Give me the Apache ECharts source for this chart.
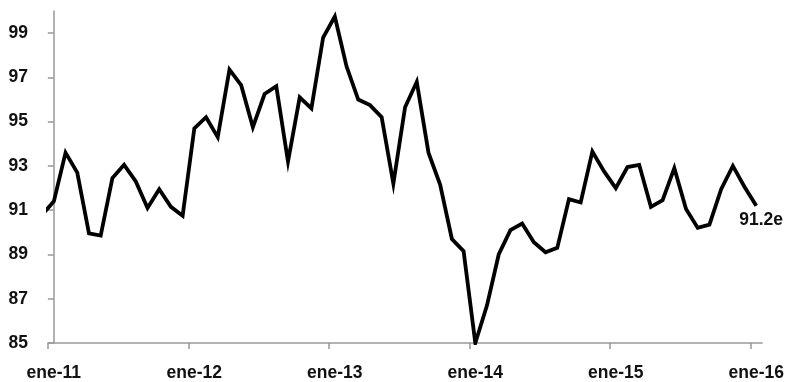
<!DOCTYPE html>
<html>
<head>
<meta charset="utf-8">
<script src="https://cdn.jsdelivr.net/npm/echarts@6/dist/echarts.min.js"></script>
<style>html,body{margin:0;padding:0;background:#fff;}#c{width:787px;height:382px;}</style>
</head>
<body>
<div id="c"></div>
<script>
// Month categories (ene-11 .. ene-16)
const categories = [
  'ene-11','feb-11','mar-11','abr-11','may-11','jun-11','jul-11','ago-11','sep-11','oct-11','nov-11','dic-11',
  'ene-12','feb-12','mar-12','abr-12','may-12','jun-12','jul-12','ago-12','sep-12','oct-12','nov-12','dic-12',
  'ene-13','feb-13','mar-13','abr-13','may-13','jun-13','jul-13','ago-13','sep-13','oct-13','nov-13','dic-13',
  'ene-14','feb-14','mar-14','abr-14','may-14','jun-14','jul-14','ago-14','sep-14','oct-14','nov-14','dic-14',
  'ene-15','feb-15','mar-15','abr-15','may-15','jun-15','jul-15','ago-15','sep-15','oct-15','nov-15','dic-15',
  'ene-16'
];
// Value for dic-10 (only partially visible at left edge)
const priorValue = 90.8;
const values = [
  91.4, 93.6, 92.7, 89.95, 89.85, 92.45, 93.05, 92.3, 91.1, 91.95, 91.15, 90.75,
  94.7, 95.2, 94.3, 97.35, 96.65, 94.75, 96.25, 96.6, 93.2, 96.1, 95.6, 98.8,
  99.75, 97.5, 96.0, 95.75, 95.2, 92.2, 95.65, 96.8, 93.6, 92.15, 89.7, 89.15,
  85.0, 86.7, 89.0, 90.1, 90.4, 89.55, 89.1, 89.3, 91.5, 91.35, 93.65, 92.75,
  92.0, 92.95, 93.05, 91.15, 91.45, 92.9, 91.05, 90.2, 90.35, 91.95, 93.0, 92.05,
  91.2
];
const yTickValues = [85, 87, 89, 91, 93, 95, 97, 99];
const xLabelIndexes = [0, 12, 24, 36, 48, 60];
const xTickPositions = xLabelIndexes.map(i => i - 0.5);

const seriesData = [[-1, priorValue]].concat(values.map((v, i) => [i, v]));
const font = '"Liberation Sans", Arial, sans-serif';

const chart = echarts.init(document.getElementById('c'), null, {renderer: 'canvas'});
chart.setOption({
  animation: false,
  backgroundColor: '#ffffff',
  grid: {left: 48, right: 23, top: 11, bottom: 38, containLabel: false},
  xAxis: {
    type: 'value',
    min: -0.5,
    max: categories.length - 0.5,
    splitLine: {show: false},
    axisLine: {show: true, lineStyle: {color: '#999', width: 1.5}},
    axisTick: {show: true, customValues: xTickPositions, length: 6, lineStyle: {color: '#999', width: 1.5}},
    axisLabel: {
      show: true, customValues: xLabelIndexes, margin: 21,
      formatter: v => categories[Math.round(v)] || '',
      color: '#111', fontFamily: font, fontWeight: 'bold', fontSize: 17.5
    }
  },
  yAxis: {
    type: 'value',
    min: 85,
    max: 100,
    splitLine: {show: false},
    axisLine: {show: true, lineStyle: {color: '#999', width: 1.5}},
    axisTick: {show: true, customValues: yTickValues, length: 6, lineStyle: {color: '#999', width: 1.5}},
    axisLabel: {
      show: true, customValues: yTickValues, margin: 20,
      color: '#111', fontFamily: font, fontWeight: 'bold', fontSize: 17.5
    }
  },
  series: [{
    type: 'line',
    data: seriesData,
    showSymbol: false,
    symbol: 'none',
    clip: true,
    lineStyle: {color: '#000', width: 3.8, join: 'miter'},
    endLabel: {
      show: true,
      formatter: p => p.value[1].toFixed(1) + 'e',
      offset: [-25, 14],
      color: '#111', fontFamily: font, fontWeight: 'bold', fontSize: 17.5
    }
  }]
});
</script>
</body>
</html>
